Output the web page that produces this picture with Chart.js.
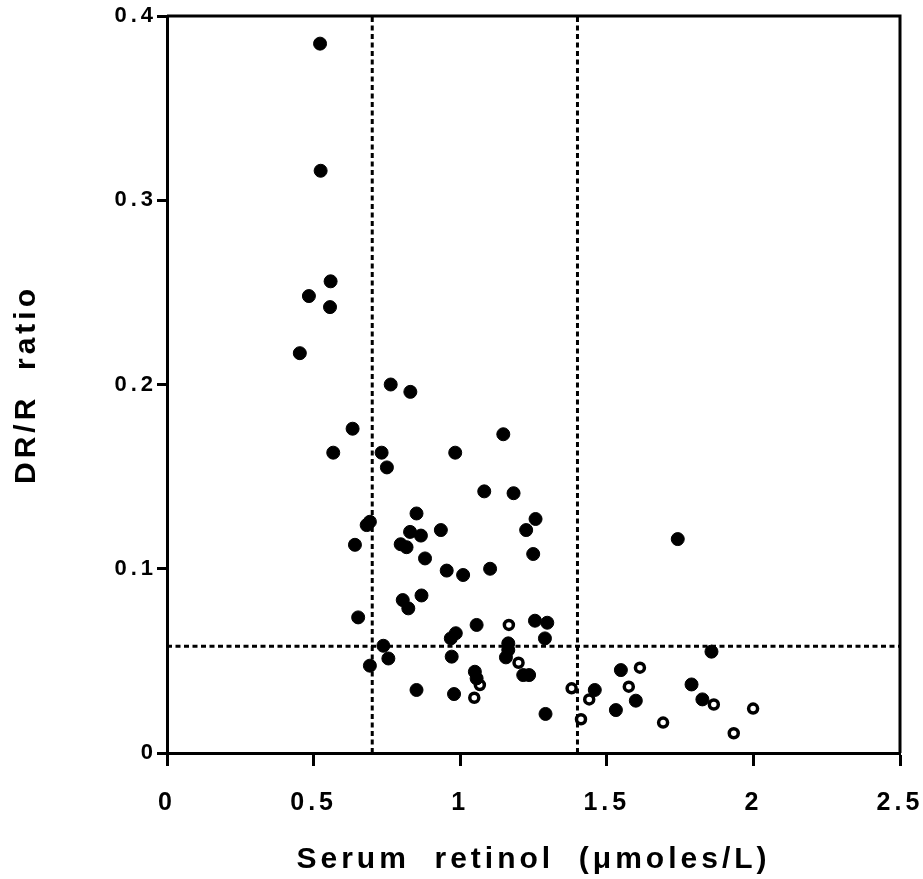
<!DOCTYPE html>
<html>
<head>
<meta charset="utf-8">
<script src="https://cdn.jsdelivr.net/npm/chart.js@4/dist/chart.umd.min.js"></script>
<style>
  html, body { margin: 0; padding: 0; background: #fff; }
  #wrap { width: 923px; height: 879px; }
</style>
</head>
<body>
<div id="wrap"><canvas id="c" width="923" height="879"></canvas></div>
<script>
// Serum retinol (µmol/L) vs DR/R ratio, filled and open subjects
const filledRetinol = [0.522, 0.524, 0.558, 0.484, 0.556, 0.453, 0.763, 0.830, 0.633, 0.567,
  0.732, 0.750, 0.983, 1.147, 1.082, 1.182, 0.851, 1.257, 0.692, 0.681,
  0.829, 0.866, 0.934, 1.225, 0.641, 0.797, 0.817, 0.880, 1.249, 0.954,
  1.010, 1.102, 0.804, 0.823, 0.868, 0.652, 1.056, 1.255, 1.297, 1.289,
  0.985, 0.968, 0.971, 1.164, 1.164, 1.156, 1.215, 1.235, 1.050, 1.056,
  0.979, 0.851, 0.738, 0.755, 0.692, 1.291, 1.459, 1.548, 1.531, 1.599,
  1.742, 1.857, 1.789, 1.826];
const filledRatio = [0.385, 0.316, 0.256, 0.248, 0.242, 0.217, 0.200, 0.196, 0.176, 0.163,
  0.163, 0.155, 0.163, 0.173, 0.142, 0.141, 0.130, 0.127, 0.1255, 0.1237,
  0.120, 0.118, 0.121, 0.121, 0.113, 0.1133, 0.1117, 0.1056, 0.108, 0.099,
  0.0966, 0.100, 0.083, 0.0785, 0.0855, 0.0736, 0.0695, 0.0718, 0.0707, 0.0622,
  0.065, 0.0622, 0.0523, 0.0595, 0.0559, 0.0519, 0.0423, 0.0423, 0.0441, 0.0405,
  0.032, 0.0342, 0.0582, 0.0513, 0.0474, 0.0212, 0.0342, 0.045, 0.0233, 0.0284,
  0.1161, 0.055, 0.0372, 0.0291];
const openRetinol = [1.166, 1.199, 1.067, 1.048, 1.380, 1.440, 1.412, 1.613, 1.575, 1.692,
  1.865, 1.933, 1.999];
const openRatio = [0.0695, 0.049, 0.0369, 0.030, 0.0351, 0.0291, 0.0183, 0.0463, 0.036, 0.0165,
  0.0263, 0.0107, 0.0241];

// Cut-off lines
const retinolCutoffs = [0.7, 1.4];
const ratioCutoff = 0.058;

// Axis ranges and tick steps
const xRange = [0, 2.5], xStep = 0.5;
const yRange = [0, 0.4], yStep = 0.1;

const toPoints = (xs, ys) => xs.map((x, i) => ({ x: x, y: ys[i] }));
const tickText = v => String(Number(v.toFixed(2)));

const dashStyle = {
  type: 'line', showLine: true, borderColor: '#000', borderWidth: 3,
  borderDash: [5, 3.5], pointRadius: 0, fill: false, order: 2
};

const datasets = [
  ...retinolCutoffs.map(v => Object.assign({
    data: [{ x: v, y: yRange[0] }, { x: v, y: yRange[1] }]
  }, dashStyle)),
  Object.assign({
    data: [{ x: xRange[0], y: ratioCutoff }, { x: xRange[1], y: ratioCutoff }]
  }, dashStyle),
  {
    label: 'filled', data: toPoints(filledRetinol, filledRatio),
    pointRadius: 6.5, borderWidth: 1, backgroundColor: '#000', borderColor: '#000', order: 0
  },
  {
    label: 'open', data: toPoints(openRetinol, openRatio),
    pointRadius: 4.5, borderWidth: 3.5, backgroundColor: '#fff', borderColor: '#000', order: 0
  }
];

// Box frame on the top and right, and spaced lettering
const framePlugin = {
  id: 'frame',
  beforeDraw(chart) {
    chart.ctx.letterSpacing = '4px';
  },
  afterDraw(chart) {
    const { ctx, chartArea: a } = chart;
    ctx.save();
    ctx.strokeStyle = '#000';
    ctx.lineWidth = 3;
    ctx.beginPath();
    ctx.moveTo(a.left, a.top);
    ctx.lineTo(a.right, a.top);
    ctx.lineTo(a.right, a.bottom);
    ctx.stroke();
    ctx.restore();
  }
};

Chart.defaults.font.family = "'Liberation Sans', Arial, Helvetica, sans-serif";
Chart.defaults.font.weight = 'bold';
Chart.defaults.color = '#000';

new Chart(document.getElementById('c'), {
  type: 'scatter',
  data: { datasets },
  options: {
    responsive: false,
    animation: false,
    layout: { padding: { top: 16, right: 23, left: 0, bottom: 0 } },
    plugins: { legend: { display: false }, tooltip: { enabled: false } },
    scales: {
      x: {
        type: 'linear', min: xRange[0], max: xRange[1],
        ticks: { stepSize: xStep, padding: 22, color: '#000', callback: tickText,
          font: { family: "'Liberation Sans Narrow', 'Liberation Sans', Arial, sans-serif", size: 25, weight: 'bold' } },
        grid: { drawOnChartArea: false, drawTicks: true, tickLength: 13, tickWidth: 3, tickColor: '#000', color: '#000' },
        border: { display: true, color: '#000', width: 3 },
        title: { display: true, text: 'Serum  retinol  (μmoles/L)', color: '#000',
          font: { size: 30, weight: 'bold', lineHeight: 1 }, padding: { top: 0, bottom: 4 } },
        afterFit(scale) { scale.height = 126; scale.paddingLeft = 0; scale.paddingRight = 0; }
      },
      y: {
        type: 'linear', min: yRange[0], max: yRange[1],
        ticks: { stepSize: yStep, padding: 0, color: '#000', callback: tickText,
          font: { size: 22, weight: 'bold' } },
        grid: { drawOnChartArea: false, drawTicks: true, tickLength: 10, tickWidth: 3, tickColor: '#000', color: '#000' },
        border: { display: true, color: '#000', width: 3 },
        title: { display: true, text: 'DR/R  ratio', color: '#000',
          font: { size: 30, weight: 'bold', lineHeight: 1 }, padding: { top: 12, bottom: 0 } },
        afterFit(scale) { scale.width = 167; scale.paddingTop = 0; scale.paddingBottom = 0; }
      }
    }
  },
  plugins: [framePlugin]
});
</script>
</body>
</html>
